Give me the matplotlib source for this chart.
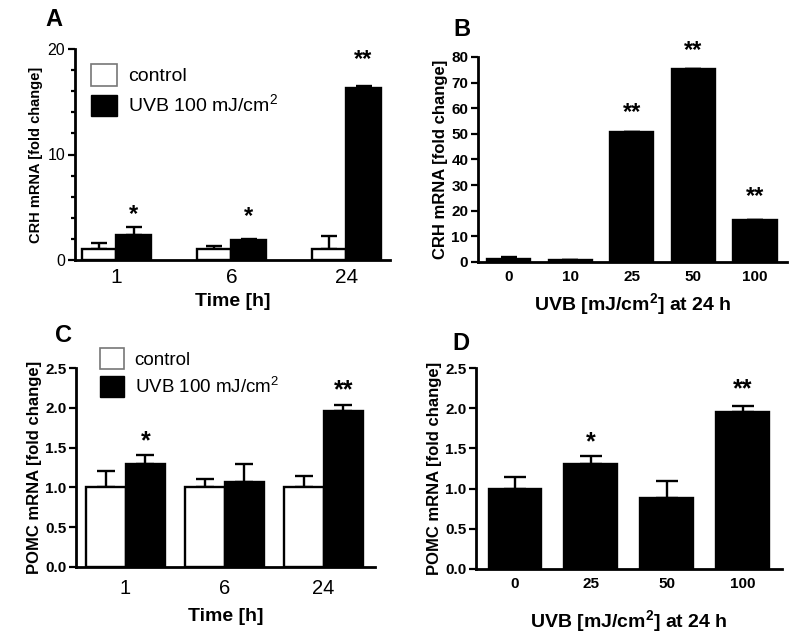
import numpy as np
import matplotlib
matplotlib.use("Agg")
import matplotlib.pyplot as plt
from matplotlib.patches import Patch

plt.rcParams['font.family'] = ['Liberation Sans', 'DejaVu Sans']
plt.rcParams['mathtext.fontset'] = 'custom'
plt.rcParams['mathtext.rm'] = 'Liberation Sans'
plt.rcParams['mathtext.bf'] = 'Liberation Sans:bold'

# --- Dati ---
# A: CRH mRNA nel tempo
time_labels = ['1', '6', '24']
crh_ctrl = [1.0, 1.0, 1.0]
crh_ctrl_err = [0.65, 0.3, 1.3]
crh_uvb = [2.4, 1.9, 16.3]
crh_uvb_err = [0.75, 0.1, 0.15]
crh_time_stars = ['*', '*', '**']
crh_time_star_y = [4.3, 4.15, 19.0]

# B: CRH mRNA vs dose UVB a 24 h
dose_b = ['0', '10', '25', '50', '100']
crh_dose = [1.0, 0.6, 50.6, 75.3, 16.4]
crh_dose_err = [1.1, 0.0, 0.2, 0.0, 0.0]
crh_dose_stars = ['', '', '**', '**', '**']
crh_dose_star_y = [0, 0, 58.5, 82.5, 25.5]

# C: POMC mRNA nel tempo
pomc_ctrl = [1.0, 1.0, 1.0]
pomc_ctrl_err = [0.2, 0.1, 0.14]
pomc_uvb = [1.3, 1.07, 1.96]
pomc_uvb_err = [0.11, 0.22, 0.07]
pomc_time_stars = ['*', '', '**']
pomc_time_star_y = [1.58, 0, 2.22]

# D: POMC mRNA vs dose UVB a 24 h
dose_d = ['0', '25', '50', '100']
pomc_dose = [1.0, 1.3, 0.88, 1.95]
pomc_dose_err = [0.14, 0.11, 0.22, 0.08]
pomc_dose_stars = ['', '*', '', '**']
pomc_dose_star_y = [0, 1.58, 0, 2.23]

LW = 1.7
W, H = 800, 639


def px_axes(fig, left, right, top, bottom):
    return fig.add_axes([left / W, 1 - bottom / H, (right - left) / W, (bottom - top) / H])


def style_axes(ax):
    for s in ['top', 'right']:
        ax.spines[s].set_visible(False)
    for s in ['left', 'bottom']:
        ax.spines[s].set_linewidth(2.0)
    ax.tick_params(axis='y', width=1.6, length=5, direction='out', pad=2)
    ax.tick_params(axis='x', length=0, pad=6)


def bars(ax, x, vals, errs, face, width, capsize):
    ax.bar(x, vals, width, color=face, edgecolor='black', linewidth=LW, zorder=2)
    ax.errorbar(x, vals, yerr=[np.zeros(len(vals)), errs], fmt='none', ecolor='black',
                elinewidth=LW, capsize=capsize, capthick=LW, zorder=1)


def stars(ax, x, labels, ys, size=17):
    for xi, s, y in zip(x, labels, ys):
        if s:
            ax.text(xi, y, s, ha='center', va='center', fontsize=size, fontweight='bold')


def bold_ticks(ax, size):
    for lab in ax.get_xticklabels() + ax.get_yticklabels():
        lab.set_fontsize(size)
        lab.set_fontweight('bold')


fig = plt.figure(figsize=(8, 6.39), dpi=100)

# ---- A ----
axA = px_axes(fig, 75, 390, 49, 260)
style_axes(axA)
xt = np.arange(3)
bw = 0.3
bars(axA, xt - bw / 2, crh_ctrl, crh_ctrl_err, 'white', bw, 6)
bars(axA, xt + bw / 2, crh_uvb, crh_uvb_err, 'black', bw, 6)
stars(axA, xt + bw / 2, crh_time_stars, crh_time_star_y)
axA.set_xlim(-0.36, 2.38)
axA.set_ylim(0, 20)
axA.set_yticks([0, 10, 20])
axA.set_yticks(np.arange(0, 21, 2), minor=True)
axA.tick_params(axis='y', which='minor', width=1.6, length=3)
axA.tick_params(axis='y', labelsize=11.5)
axA.set_xticks(xt)
axA.set_xticklabels(time_labels, fontsize=15)
axA.set_xlabel('Time [h]', fontsize=14, fontweight='bold', labelpad=4)
axA.set_ylabel('CRH mRNA [fold change]', fontsize=10.5, fontweight='bold', labelpad=3)
handles = [Patch(facecolor='white', edgecolor='#777777', linewidth=1.2),
           Patch(facecolor='black', edgecolor='black')]
axA.legend(handles, ['control', 'UVB 100 mJ/cm$^2$'], loc='upper left',
           bbox_to_anchor=(0.05, 0.93), frameon=False, fontsize=14,
           handlelength=1.35, handleheight=1.35, labelspacing=0.4,
           handletextpad=0.55, borderpad=0, borderaxespad=0)
fig.text(45 / W, 1 - 20 / H, 'A', fontsize=17, fontweight='bold', ha='left', va='center')

# ---- B ----
axB = px_axes(fig, 478, 787, 57, 262)
style_axes(axB)
xb = np.arange(len(dose_b))
bars(axB, xb, crh_dose, crh_dose_err, 'black', 0.7, 6)
stars(axB, xb, crh_dose_stars, crh_dose_star_y)
axB.set_xlim(-0.5, 4.52)
axB.set_ylim(0, 80)
axB.set_yticks(np.arange(0, 81, 10))
axB.set_xticks(xb)
axB.set_xticklabels(dose_b)
bold_ticks(axB, 11)
axB.set_xlabel(r'UVB [mJ/cm$^\mathbf{2}$] at 24 h', fontsize=14, fontweight='bold', labelpad=5)
axB.set_ylabel('CRH mRNA [fold change]', fontsize=12, fontweight='bold', labelpad=2)
fig.text(453 / W, 1 - 30 / H, 'B', fontsize=17, fontweight='bold', ha='left', va='center')

# ---- C ----
axC = px_axes(fig, 76, 375, 368, 567)
style_axes(axC)
axC.tick_params(axis='x', pad=9)
bw = 0.4
bars(axC, xt - bw / 2, pomc_ctrl, pomc_ctrl_err, 'white', bw, 6.5)
bars(axC, xt + bw / 2, pomc_uvb, pomc_uvb_err, 'black', bw, 6.5)
stars(axC, xt + bw / 2, pomc_time_stars, pomc_time_star_y, size=18)
axC.set_xlim(-0.5, 2.52)
axC.set_ylim(0, 2.5)
yt = np.arange(0, 2.51, 0.5)
axC.set_yticks(yt)
axC.set_yticklabels([f'{v:.1f}' for v in yt])
axC.set_xticks(xt)
axC.set_xticklabels(time_labels)
bold_ticks(axC, 11)
for lab in axC.get_xticklabels():
    lab.set_fontsize(14.5)
    lab.set_fontweight('normal')
axC.set_xlabel('Time [h]', fontsize=14, fontweight='bold', labelpad=7)
axC.set_ylabel('POMC mRNA [fold change]', fontsize=12, fontweight='bold', labelpad=2)
axC.legend(handles, ['control', 'UVB 100 mJ/cm$^2$'], loc='upper left',
           bbox_to_anchor=(0.08, 1.10), frameon=False, fontsize=13.5,
           handlelength=1.3, handleheight=1.3, labelspacing=0.4,
           handletextpad=0.55, borderpad=0, borderaxespad=0)
fig.text(55 / W, 1 - 335 / H, 'C', fontsize=17, fontweight='bold', ha='left', va='center')

# ---- D ----
axD = px_axes(fig, 476, 782, 368, 569)
style_axes(axD)
xd = np.arange(len(dose_d))
bars(axD, xd, pomc_dose, pomc_dose_err, 'black', 0.69, 8)
stars(axD, xd, pomc_dose_stars, pomc_dose_star_y, size=18)
axD.set_xlim(-0.51, 3.52)
axD.set_ylim(0, 2.5)
axD.set_yticks(yt)
axD.set_yticklabels([f'{v:.1f}' for v in yt])
axD.set_xticks(xd)
axD.set_xticklabels(dose_d)
bold_ticks(axD, 11)
axD.set_xlabel(r'UVB [mJ/cm$^\mathbf{2}$] at 24 h', fontsize=14, fontweight='bold', labelpad=12)
axD.set_ylabel('POMC mRNA [fold change]', fontsize=12, fontweight='bold', labelpad=2)
fig.text(452 / W, 1 - 343 / H, 'D', fontsize=17, fontweight='bold', ha='left', va='center')

fig.savefig('out.png', dpi=100)
